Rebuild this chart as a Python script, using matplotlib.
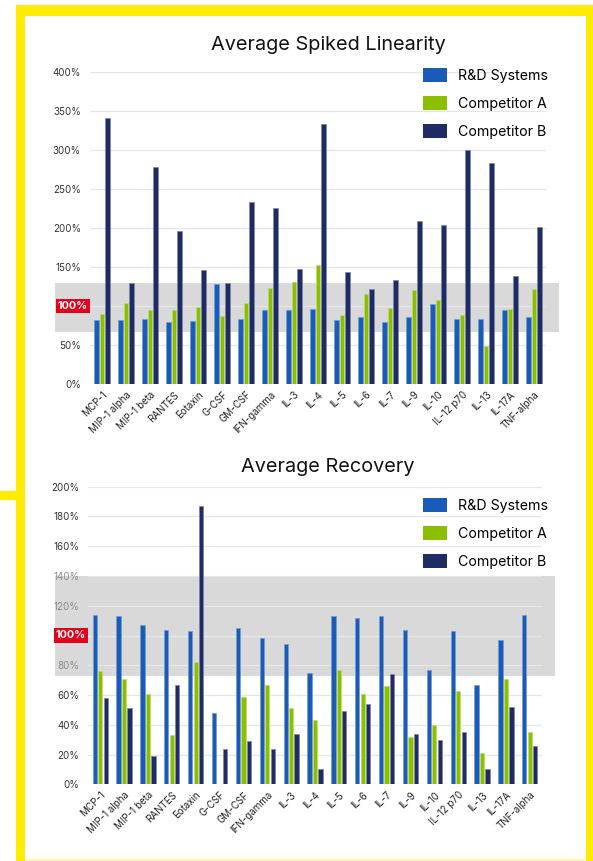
import matplotlib
matplotlib.use("Agg")
import matplotlib.pyplot as plt
import numpy as np
from matplotlib.patches import Rectangle, Patch
from matplotlib.transforms import blended_transform_factory

plt.rcParams['font.family'] = ['Inter', 'DejaVu Sans']

categories = ["MCP-1", "MIP-1 alpha", "MIP-1 beta", "RANTES", "Eotaxin", "G-CSF", "GM-CSF",
              "IFN-gamma", "IL-3", "IL-4", "IL-5", "IL-6", "IL-7", "IL-9", "IL-10",
              "IL-12 p70", "IL-13", "IL-17A", "TNF-alpha"]
series_names = ["R&D Systems", "Competitor A", "Competitor B"]

# Average Spiked Linearity (%)
lin_rnd = [82, 82, 84, 80, 81, 128, 84, 95, 95, 96, 82, 86, 80, 86, 103, 83, 83, 95, 86]
lin_a = [90, 104, 95, 95, 99, 87, 104, 123, 131, 153, 89, 116, 98, 120, 108, 89, 49, 96, 122]
lin_b = [341, 130, 279, 196, 146, 129, 233, 226, 147, 334, 144, 122, 133, 209, 204, 300, 284, 139, 202]

# Average Recovery (%)
rec_rnd = [114, 113, 107, 104, 103, 48, 105, 98, 94, 75, 113, 112, 113, 104, 77, 103, 67, 97, 114]
rec_a = [76, 71, 61, 33, 82, 0, 59, 67, 51, 43, 77, 61, 66, 32, 40, 63, 21, 71, 35]
rec_b = [58, 51, 19, 67, 187, 24, 29, 24, 34, 10, 49, 54, 74, 34, 30, 35, 10, 52, 26]

lin_ticks = [0, 50, 100, 150, 200, 250, 300, 350, 400]
rec_ticks = [0, 20, 40, 60, 80, 100, 120, 140, 160, 180, 200]
lin_band = (67, 130)
rec_band = (73, 140)

colors = ["#1a5bb8", "#8cbf00", "#1f2c63"]
edge_colors = ["#6f9bd8", "#bcdc70", "#7c86ad"]

W, H = 593, 861
fig = plt.figure(figsize=(W / 100, H / 100), dpi=100)


def px_rect(x0, y0, x1, y1, color, z=0):
    fig.patches.append(Rectangle((x0 / W, 1 - y1 / H), (x1 - x0) / W, (y1 - y0) / H,
                                 transform=fig.transFigure, facecolor=color,
                                 edgecolor='none', zorder=z))


# yellow frame
yel = "#ffec00"
px_rect(16, 5, 593, 16, yel)
px_rect(16, 5, 25, 861, yel)
px_rect(0, 491, 16, 500, yel)
px_rect(586, 5, 593, 861, yel)
px_rect(25, 859, 586, 861, "#fff8a8")


def make_chart(rect, title, title_y, r, a, b, ticks, ymax, band, band_x, legend_top, redbox_x):
    ax = fig.add_axes(rect)
    x = np.arange(len(categories))
    off = 0.23
    bw = 0.18
    for i, vals in enumerate([r, a, b]):
        ax.bar(x + (i - 1) * off, vals, width=bw, color=colors[i],
               edgecolor=edge_colors[i], linewidth=0.5, zorder=3, label=series_names[i])
    ax.set_xlim(-0.5, len(categories) - 0.5)
    ax.set_ylim(0, ymax)
    ax.set_yticks(ticks)
    labels = ["" if t == 100 else f"{t}%" for t in ticks]
    ax.set_yticklabels(labels)
    for t, lab in zip(ticks, ax.get_yticklabels()):
        if band[0] <= t <= band[1]:
            lab.set_color("#8a8a8a")
        else:
            lab.set_color("#333333")
    ax.tick_params(axis='y', length=0, pad=6.5, labelsize=7)
    ax.set_xticks(x)
    ax.set_xticklabels(categories, rotation=45, ha='right', rotation_mode='anchor',
                       fontsize=7, color="#222222")
    ax.tick_params(axis='x', length=0, pad=4)
    for s in ax.spines.values():
        s.set_visible(False)
    ax.yaxis.grid(True, color="#e6e6e6", linewidth=0.9)
    ax.set_axisbelow(True)
    # gray band (beneath grid and tick labels)
    tr = blended_transform_factory(fig.transFigure, ax.transData)
    ax.add_patch(Rectangle((band_x[0] / W, band[0]), (band_x[1] - band_x[0]) / W,
                           band[1] - band[0], transform=tr, facecolor="#d9d9d9",
                           edgecolor='none', zorder=0.3, clip_on=False))
    # red 100% label
    ax.text(redbox_x / W, 100, "100%", transform=tr, ha='center', va='center',
            fontsize=7.8, fontweight='bold', color='white', zorder=6,
            bbox=dict(boxstyle='square,pad=0.22', facecolor="#e2001a", edgecolor='none'))
    # title
    fig.text(328 / W, 1 - title_y / H, title, ha='center', va='center', fontsize=14.3,
             color="#111111")
    # legend
    handles = [Patch(facecolor=c, edgecolor='none') for c in colors]
    fig.legend(handles, series_names, loc='upper left',
               bbox_to_anchor=(423 / W, 1 - legend_top / H), bbox_transform=fig.transFigure,
               frameon=False, fontsize=10.2, handlelength=1.7, handleheight=1.13,
               handletextpad=0.75, labelspacing=0.95, borderpad=0, borderaxespad=0)
    return ax


make_chart([90 / W, 1 - 384 / H, 456 / W, (384 - 72.3) / H], "Average Spiked Linearity", 45,
           lin_rnd, lin_a, lin_b, lin_ticks, 400, lin_band, (55, 559), 68, 73)
make_chart([88.3 / W, 1 - 784.3 / H, (541.7 - 88.3) / W, (784.3 - 486.7) / H], "Average Recovery", 467,
           rec_rnd, rec_a, rec_b, rec_ticks, 200, rec_band, (55, 555), 498, 71)

fig.savefig("out.png", dpi=100)
